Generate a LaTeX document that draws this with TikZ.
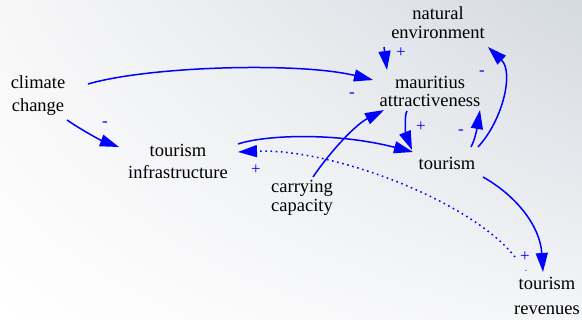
\documentclass[tikz,border=0pt]{standalone}
\usepackage{fontspec}
\setmainfont{Liberation Serif}
\newfontfamily\labelfont{Liberation Serif}
\usetikzlibrary{arrows.meta,calc,shadings}
\definecolor{vblue}{RGB}{0,0,255}
\definecolor{bgtr}{RGB}{213,218,224}
\definecolor{bgtl}{RGB}{247,247,248}
\definecolor{bgbr}{RGB}{244,245,247}
\tikzset{
  lbl/.style={align=center, inner sep=0pt, text=black, font=\labelfont\fontsize{18.5}{20}\selectfont},
  sgn/.style={inner sep=0pt, text=vblue, font=\labelfont\fontsize{17}{17}\selectfont},
  lnk/.style={draw=vblue, line width=1.5pt, -{Triangle[length=19pt,width=12pt]}},
  dotlnk/.style={lnk, dash pattern=on 1.6pt off 3.6pt}
}
\begin{document}
\begin{tikzpicture}[x=1pt,y=-1pt]
\useasboundingbox (0,0) rectangle (582,320);
\shade[upper left=bgtl, upper right=bgtr, lower left=white, lower right=bgbr] (0,0) rectangle (582,320);

% variables
\node[lbl, font=\labelfont\fontsize{18.5}{23}\selectfont] (cc) at (38,96) {climate\\change};
\node[lbl, font=\labelfont\fontsize{18.5}{22}\selectfont] (ti) at (178,161) {tourism\\infrastructure};
\node[lbl, font=\labelfont\fontsize{18.5}{19}\selectfont] (ne) at (438,23) {natural\\environment};
\node[lbl, font=\labelfont\fontsize{18.5}{18}\selectfont] (ma) at (430,91) {mauritius\\attractiveness};
\node[lbl] (to) at (447,163) {tourism};
\node[lbl, font=\labelfont\fontsize{18.5}{19}\selectfont] (cp) at (302,198) {carrying\\capacity};
\node[lbl, font=\labelfont\fontsize{18.5}{25}\selectfont] (tr) at (547,296) {tourism\\revenues};

% links
\draw[lnk] ($(cc)+(50,-12)$) .. controls (150,66) and (300,62) .. ($(ma)+(-57,-11)$);
\draw[lnk] ($(cc)+(29,24)$) .. controls (80,129) and (100,140) .. ($(ti)+(-59,-14)$);
\draw[lnk] ($(ti)+(60,-17)$) .. controls (265,135) and (335,132) .. ($(to)+(-34,-11)$);
\draw[dotlnk] ($(tr)+(-32,-39)$) .. controls (470,200) and (330,148) .. ($(ti)+(60,-9)$);
\draw[lnk] ($(cp)+(11,-21)$) .. controls (330,152) and (355,125) .. ($(ma)+(-46,19)$);
\draw[lnk] ($(ne)+(-54,24)$) -- ($(ma)+(-43,-21)$);
\draw[lnk] ($(ma)+(-23,20)$) .. controls (404,115) and (406,135) .. ($(to)+(-35,-13)$);
\draw[lnk] ($(to)+(24,-16)$) .. controls (476,138) and (478,122) .. ($(ma)+(50,19)$);
\draw[lnk] ($(to)+(31,-16)$) .. controls (503,120) and (514,72) .. ($(ne)+(50,24)$);
\draw[lnk] ($(to)+(36,14)$) .. controls (515,195) and (540,225) .. ($(tr)+(-4,-24)$);

% polarity signs
\node[sgn] (s1) at (352,95) {-};
\node[sgn] (s2) at (105,124) {-};
\node[sgn] (s3) at (256,170) {+};
\node[sgn] (s4) at (525,257) {+};
\node[sgn] (s5) at (401,53) {+};
\node[sgn] (s6) at (421,127) {+};
\node[sgn] (s7) at (461,132) {-};
\node[sgn] (s8) at (482,73) {-};
\node[sgn, font=\labelfont\fontsize{7}{7}\selectfont] (s9) at (526,272) {-};
\end{tikzpicture}
\end{document}
